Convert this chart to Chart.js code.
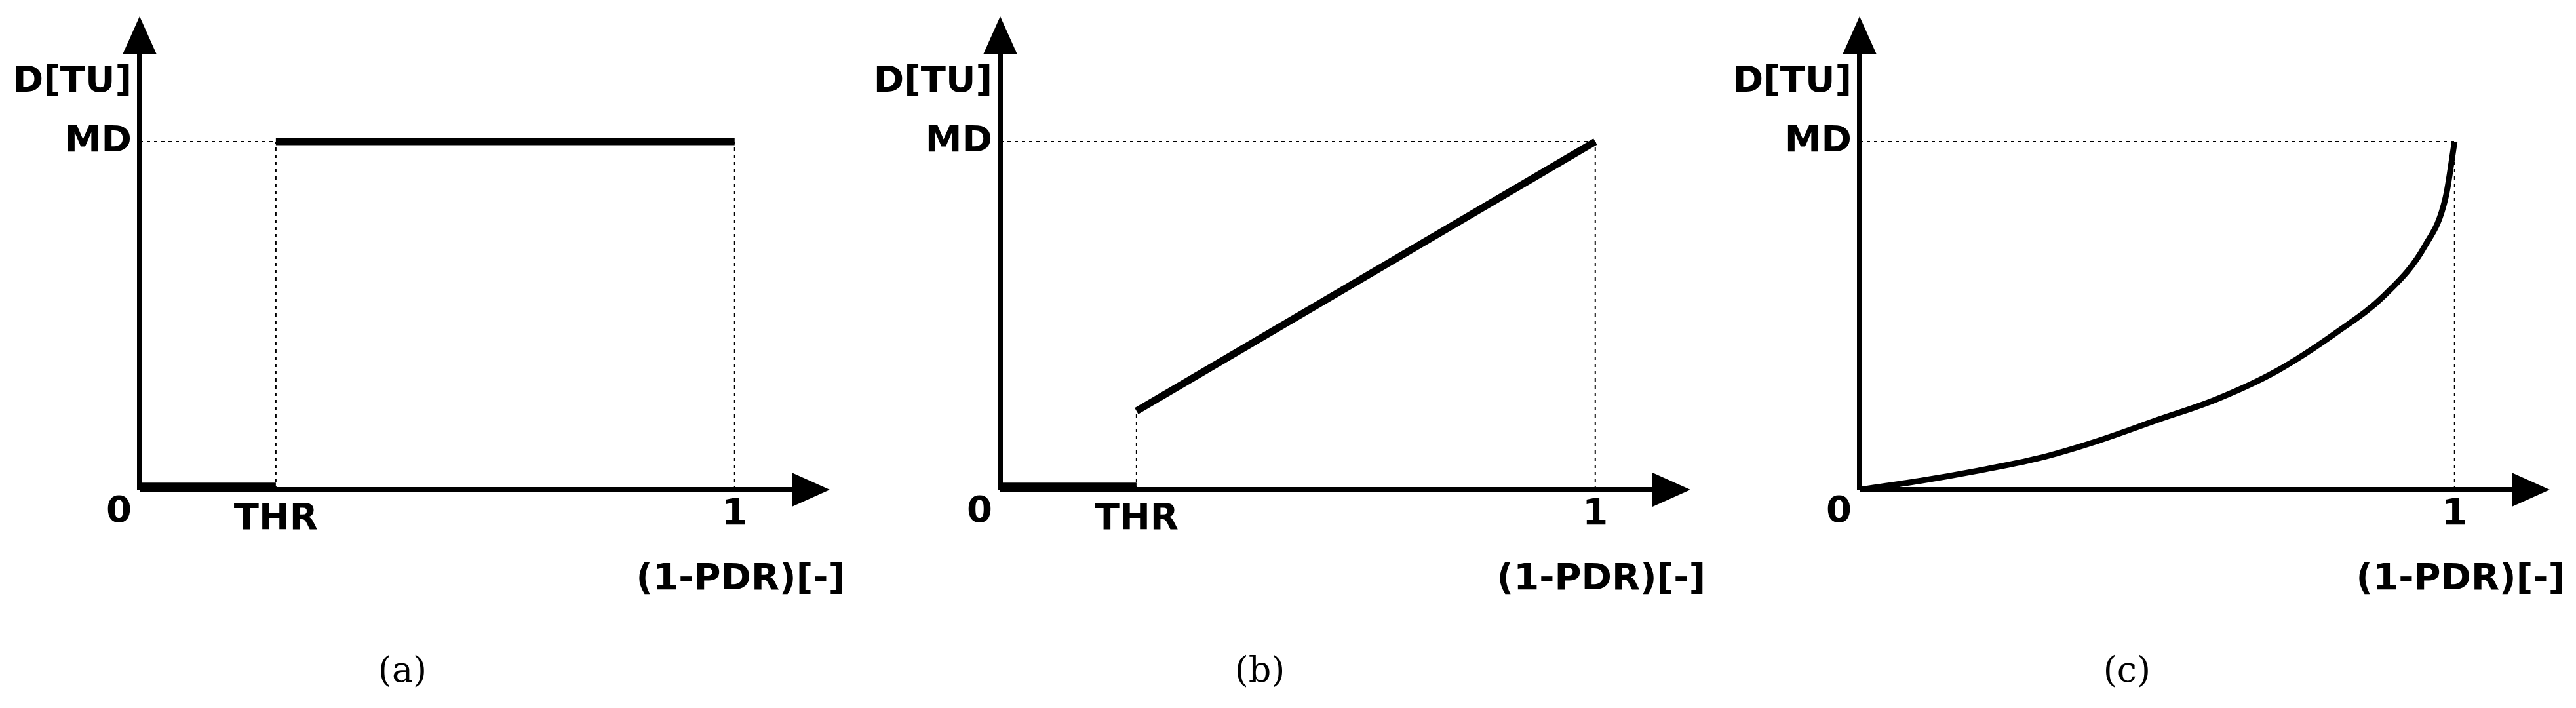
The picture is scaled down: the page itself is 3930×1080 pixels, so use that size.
<!DOCTYPE html>
<html><head><meta charset="utf-8">
<script src="https://cdn.jsdelivr.net/npm/chart.js@4/dist/chart.umd.min.js"></script>
<style>
body{margin:0;background:#fff;width:3930px;height:1080px;position:relative;overflow:hidden}
.p{position:absolute;top:0;width:1330px;height:1080px}
.cap{position:absolute;top:990px;font:54px "DejaVu Serif",serif;transform:translateX(-50%)}
</style></head><body>
<div class="p" style="left:13px"><canvas id="ca"></canvas></div>
<div class="p" style="left:1326px"><canvas id="cb"></canvas></div>
<div class="p" style="left:2637px"><canvas id="cc"></canvas></div>
<div class="cap" style="left:614px">(a)</div>
<div class="cap" style="left:1922px">(b)</div>
<div class="cap" style="left:3245px">(c)</div>
<script>
// values in units of MD (y) and (1-PDR) (x)
const THR = 0.229;
const stepB = 0.226;
const curveX = [0, 0.1, 0.2, 0.3, 0.4, 0.5, 0.6, 0.7, 0.8, 0.883, 0.95, 0.985, 1];
const curveY = [0, 0.025, 0.055, 0.09, 0.14, 0.2, 0.26, 0.34, 0.45, 0.56, 0.7, 0.84, 1];
const X_MAX = 1.16, Y_MAX = 1.36;

function seg(pts, dotted) {
    return {
        data: pts.map(([x, y]) => ({ x, y })),
        borderColor: '#000',
        borderWidth: dotted ? 2 : 11,
        borderDash: dotted ? [5, 6] : [],
        pointRadius: 0,
        tension: 0,
        borderCapStyle: 'butt'
    };
}

const axesPlugin = {
    id: 'axes',
    afterDraw(chart) {
        const c = chart.ctx, sx = chart.scales.x, sy = chart.scales.y;
        const x0 = sx.getPixelForValue(0), y0 = sy.getPixelForValue(0);
        const xt = sx.getPixelForValue(X_MAX), yt = sy.getPixelForValue(Y_MAX);
        c.save();
        c.strokeStyle = '#000'; c.fillStyle = '#000'; c.lineWidth = 8;
        c.beginPath(); c.moveTo(x0, y0); c.lineTo(xt - 40, y0); c.stroke();
        c.beginPath(); c.moveTo(x0, y0); c.lineTo(x0, yt + 40); c.stroke();
        c.beginPath(); c.moveTo(xt, y0); c.lineTo(xt - 58, y0 - 26); c.lineTo(xt - 58, y0 + 26); c.fill();
        c.beginPath(); c.moveTo(x0, yt); c.lineTo(x0 - 26, yt + 58); c.lineTo(x0 + 26, yt + 58); c.fill();
        c.font = 'bold 56px "DejaVu Sans"';
        c.textBaseline = 'middle';
        c.textAlign = 'right';
        c.fillText('D[TU]', x0 - 12, sy.getPixelForValue(1.17));
        c.fillText('MD', x0 - 12, sy.getPixelForValue(1));
        c.fillText('0', x0 - 12, y0 + 34);
        c.textAlign = 'center';
        if (chart.options.thr) c.fillText('THR', sx.getPixelForValue(THR), y0 + 45);
        c.fillText('1', sx.getPixelForValue(1), y0 + 38);
        c.fillText('(1-PDR)[-]', sx.getPixelForValue(1.01), y0 + 137);
        c.restore();
    }
};

function make(id, datasets, thr) {
    new Chart(document.getElementById(id), {
        type: 'line',
        data: { datasets },
        options: {
            thr,
            responsive: true, maintainAspectRatio: false, animation: false,
            layout: { padding: { left: 200, right: 77, top: 25, bottom: 333 } },
            plugins: { legend: { display: false }, tooltip: { enabled: false } },
            scales: {
                x: { type: 'linear', min: 0, max: X_MAX, display: false },
                y: { type: 'linear', min: 0, max: Y_MAX, display: false }
            }
        },
        plugins: [axesPlugin]
    });
}

make('ca', [
    seg([[0, 1], [THR, 1]], true),
    seg([[THR, 0], [THR, 1]], true),
    seg([[1, 0], [1, 1]], true),
    seg([[0, 0.01], [THR, 0.01]]),
    seg([[THR, 1], [1, 1]])
], true);

make('cb', [
    seg([[0, 1], [1, 1]], true),
    seg([[THR, 0], [THR, stepB]], true),
    seg([[1, 0], [1, 1]], true),
    seg([[0, 0.01], [THR, 0.01]]),
    seg([[THR, stepB], [1, 1]])
], true);

const curve = seg(curveX.map((x, i) => [x, curveY[i]]));
curve.cubicInterpolationMode = 'monotone';
curve.borderWidth = 9;
make('cc', [
    seg([[0, 1], [1, 1]], true),
    seg([[1, 0], [1, 1]], true),
    curve
], false);
</script>
</body></html>
